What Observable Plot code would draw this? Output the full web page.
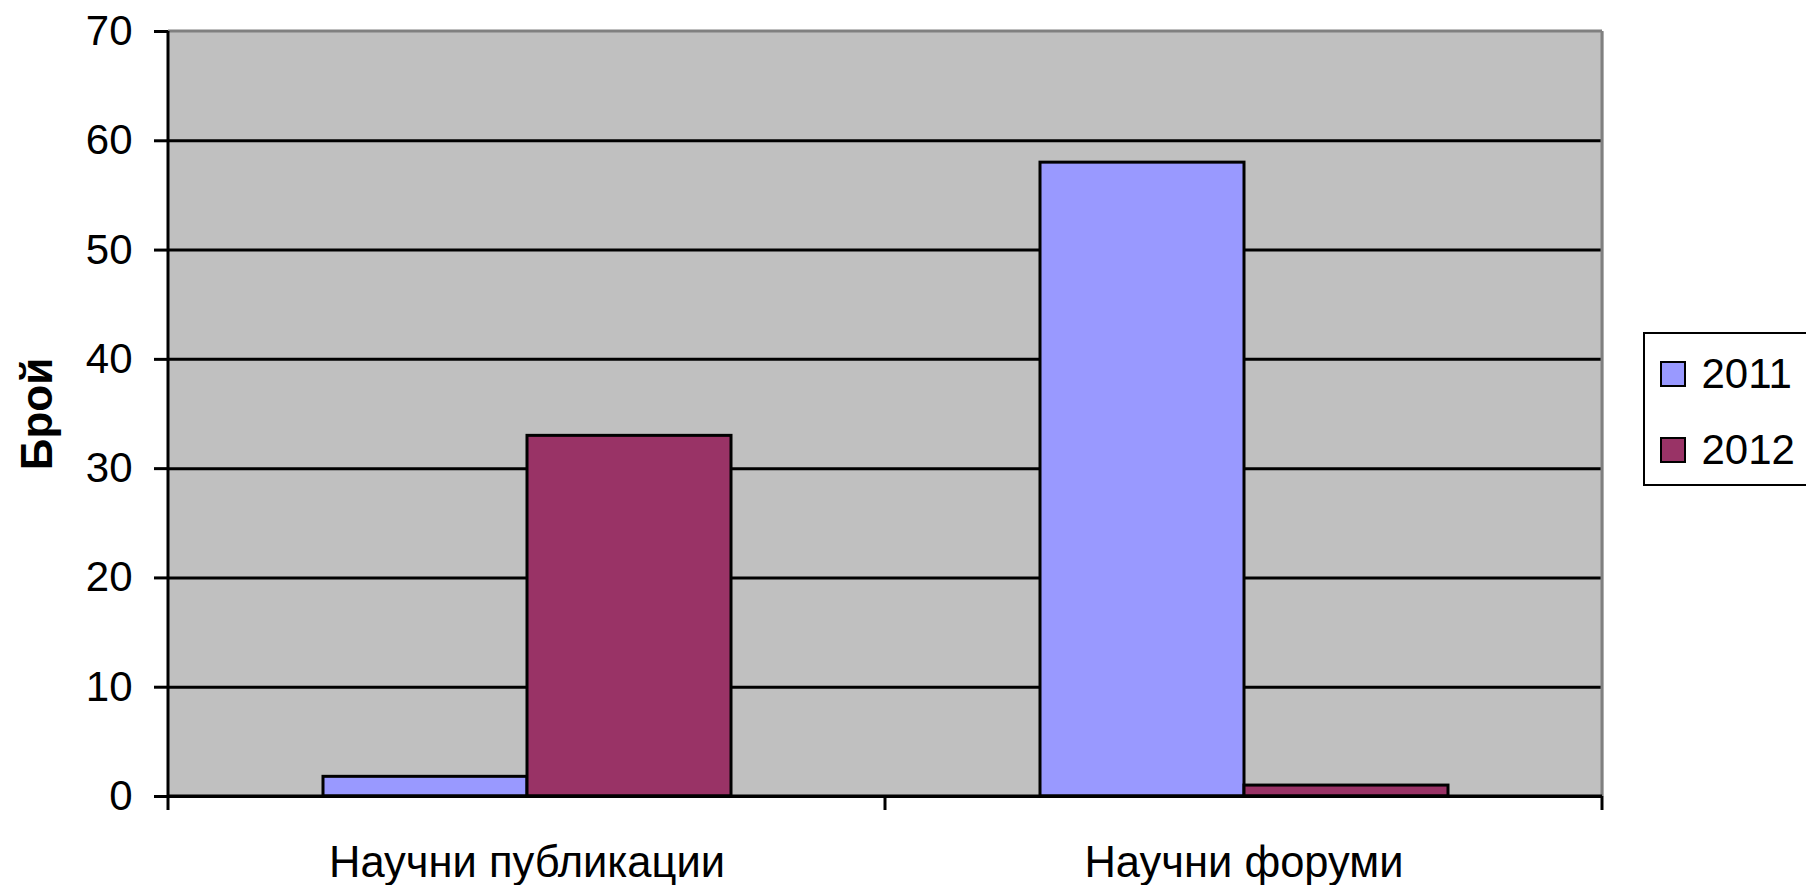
<!DOCTYPE html>
<html>
<head>
<meta charset="utf-8">
<script src="https://cdn.jsdelivr.net/npm/d3@7"></script>
<script src="https://cdn.jsdelivr.net/npm/@observablehq/plot@0.6"></script>
<style>
  html, body { margin: 0; padding: 0; background: #fff; }
  #wrap { position: relative; width: 1806px; height: 885px; overflow: hidden; font-family: "Liberation Sans", Arial, sans-serif; }
  #legend { position: absolute; left: 1643px; top: 332px; width: 220px; height: 154px; border: 2.5px solid #000; background: #fff; box-sizing: border-box; }
  .sw { position: absolute; width: 26px; height: 26px; box-sizing: border-box; border: 2.5px solid #000; }
  .lt { position: absolute; font-size: 42px; line-height: 42px; color: #000; white-space: nowrap; }
</style>
</head>
<body>
<div id="wrap"></div>
<script>
const categories = ["Научни публикации", "Научни форуми"];
const years = ["2011", "2012"];
const values2011 = [1.8, 58];
const values2012 = [33, 1];
const yTicks = [0, 10, 20, 30, 40, 50, 60, 70];
const colors = ["#9999FF", "#993366"];
const yLabel = "Брой";

const seriesValues = [values2011, values2012];
const data = categories.flatMap((c, i) => years.map((yr, j) => ({category: c, year: yr, value: seriesValues[j][i]})));

const chart = Plot.plot({
  width: 1806,
  height: 885,
  marginLeft: 167,
  marginRight: 204,
  marginTop: 31,
  marginBottom: 89,
  style: { fontFamily: "'Liberation Sans', Arial, sans-serif", fontSize: "42px", background: "white", color: "black" },
  fx: { domain: categories, padding: 0, label: null, axis: null },
  x: { domain: years, paddingInner: 0, paddingOuter: 0.757, axis: null },
  y: { domain: [0, 70], axis: null },
  color: { domain: years, range: colors },
  marks: [
    Plot.frame({ fill: "#C0C0C0", stroke: null, insetRight: -1 }),
    Plot.gridY(yTicks.filter(t => t > 0 && t < 70), { stroke: "black", strokeOpacity: 1, strokeWidth: 3 }),
    Plot.barY(data, { fx: "category", x: "year", y: "value", fill: "year", stroke: "black", strokeWidth: 3 }),
    Plot.ruleY([0], { stroke: "black", strokeWidth: 3 }),
    Plot.axisY({ ticks: yTicks, tickSize: 14, tickPadding: 22, tickFormat: d => String(d), strokeWidth: 3, fontSize: 42, label: null, facetAnchor: "left" }),
    Plot.axisFx({ anchor: "bottom", tickSize: 0, tickPadding: 50, fontSize: 43.5, label: null }),
    Plot.text([yLabel], { text: d => d, frameAnchor: "left", textAnchor: "middle", rotate: -90, dx: -131, fontSize: 44, fontWeight: "bold", facetAnchor: "left" })
  ]
});

const wrap = document.getElementById("wrap");
wrap.appendChild(chart);

// Excel-style borders and category boundary ticks, placed with the plot's scales
const fx = chart.scale("fx");
const y = chart.scale("y");
const y0 = y.apply(0), yTop = y.apply(70);
const edges = categories.map(c => fx.apply(c)).concat([fx.apply(categories[categories.length - 1]) + fx.bandwidth]);
const xl = edges[0], xr = edges[edges.length - 1];
const svg = d3.select(chart);
const g = svg.append("g");
g.append("line").attr("x1", xl).attr("x2", xr).attr("y1", yTop).attr("y2", yTop).attr("stroke", "#808080").attr("stroke-width", 3);
g.append("line").attr("x1", xr).attr("x2", xr).attr("y1", yTop).attr("y2", y0).attr("stroke", "#808080").attr("stroke-width", 3);
g.append("line").attr("x1", xl).attr("x2", xr).attr("y1", y0).attr("y2", y0).attr("stroke", "black").attr("stroke-width", 3);
g.append("line").attr("x1", xl).attr("x2", xl).attr("y1", yTop).attr("y2", y0).attr("stroke", "black").attr("stroke-width", 3);
edges.forEach(e => {
  g.append("line").attr("x1", e).attr("x2", e).attr("y1", y0).attr("y2", y0 + 14).attr("stroke", "black").attr("stroke-width", 3);
});

// Legend
const legend = document.createElement("div");
legend.id = "legend";
years.forEach((yr, i) => {
  const cy = 374 + 76 * i - 332;
  const sw = document.createElement("div");
  sw.className = "sw";
  sw.style.left = (1660 - 1645.5) + "px";
  sw.style.top = (cy - 13 - 2.5) + "px";
  sw.style.background = colors[i];
  const t = document.createElement("div");
  t.className = "lt";
  t.style.left = (1702 - 1645.5) + "px";
  t.style.top = (cy - 21 - 2.5) + "px";
  t.textContent = yr;
  legend.appendChild(sw);
  legend.appendChild(t);
});
wrap.appendChild(legend);
</script>
</body>
</html>
